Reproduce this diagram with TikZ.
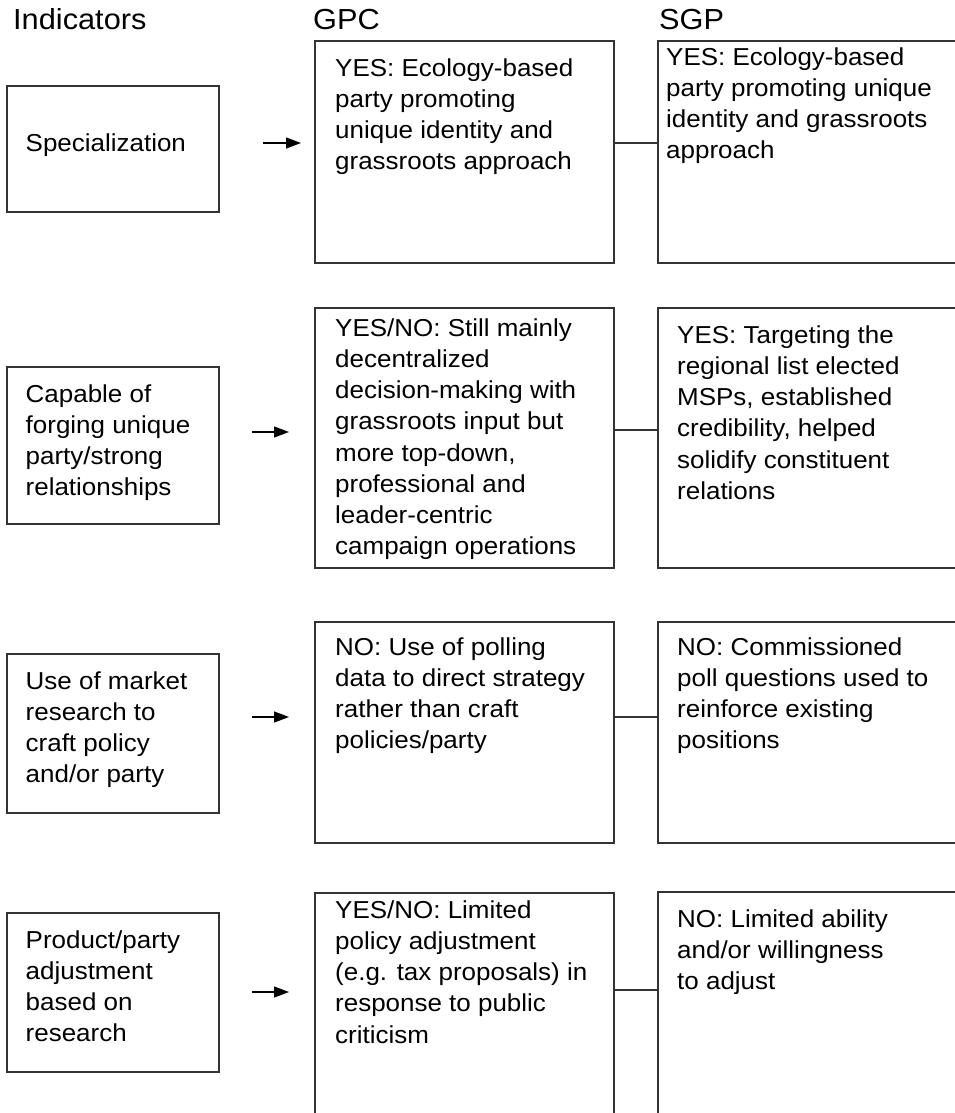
\documentclass[tikz,border=0pt]{standalone}
\usepackage{fontspec}
\setmainfont{Liberation Sans}[FakeStretch=1.06]
\usetikzlibrary{arrows.meta}
\tikzset{
  boxframe/.style={draw=black!80, line width=1.1pt, inner sep=0pt, fill=none},
  bodytext/.style={anchor=north west, inner sep=0pt, align=left, text=black,
    font=\fontsize{24.5}{31.2}\selectfont},
  headtext/.style={anchor=base west, inner sep=0pt, text=black,
    font=\fontsize{29}{34}\selectfont},
  linkline/.style={draw=black!80, line width=1.1pt},
  arrowline/.style={draw=black, line width=1.3pt, -{Triangle[length=15pt,width=11pt]}}
}
\newcommand{\Sx}{\rule{0pt}{20pt}}
\begin{document}
\begin{tikzpicture}[x=1pt, y=-1pt]
\clip (0,0) rectangle (955,1113);
\fill[white] (0,0) rectangle (955,1113);

% headers
\node[headtext] (hind) at (13,30) {Indicators};
\node[headtext] (hgpc) at (313,30) {GPC};
\node[headtext] (hsgp) at (659,30) {SGP};

% indicator boxes
\node[boxframe, minimum width=212pt, minimum height=126pt] (ind1) at (113,149) {};
\node[boxframe, minimum width=212pt, minimum height=157pt] (ind2) at (113,445.5) {};
\node[boxframe, minimum width=212pt, minimum height=159pt] (ind3) at (113,733.5) {};
\node[boxframe, minimum width=212pt, minimum height=159pt] (ind4) at (113,992.5) {};

\node[bodytext] (ind1t) at (25.5,131) {\Sx Specialization};
\node[bodytext] (ind2t) at (25.5,382) {\Sx Capable of\\forging unique\\party/strong\\relationships};
\node[bodytext] (ind3t) at (25.5,669) {\Sx Use of market\\research to\\craft policy\\and/or party};
\node[bodytext] (ind4t) at (25.5,928) {\Sx Product/party\\adjustment\\based on\\research};

% GPC boxes
\node[boxframe, minimum width=299pt, minimum height=222pt] (gpc1) at (464.5,152) {};
\node[boxframe, minimum width=299pt, minimum height=260pt] (gpc2) at (464.5,438) {};
\node[boxframe, minimum width=299pt, minimum height=221pt] (gpc3) at (464.5,732.5) {};
\node[boxframe, minimum width=299pt, minimum height=232pt] (gpc4) at (464.5,1009) {};

\node[bodytext] (gpc1t) at (335,56) {\Sx YES: Ecology-based\\party promoting\\unique identity and\\grassroots approach};
\node[bodytext] (gpc2t) at (335,316) {\Sx YES/NO: Still mainly\\decentralized\\decision-making with\\grassroots input but\\more top-down,\\professional and\\leader-centric\\campaign operations};
\node[bodytext] (gpc3t) at (335,635) {\Sx NO: Use of polling\\data to direct strategy\\rather than craft\\policies/party};
\node[bodytext] (gpc4t) at (335,898) {\Sx YES/NO: Limited\\policy adjustment\\(e.g. tax proposals) in\\response to public\\criticism};

% SGP boxes
\node[boxframe, minimum width=307pt, minimum height=222pt] (sgp1) at (811.5,152) {};
\node[boxframe, minimum width=307pt, minimum height=260pt] (sgp2) at (811.5,438) {};
\node[boxframe, minimum width=307pt, minimum height=221pt] (sgp3) at (811.5,732.5) {};
\node[boxframe, minimum width=307pt, minimum height=233pt] (sgp4) at (811.5,1008.5) {};

\node[bodytext] (sgp1t) at (666,45) {\Sx YES: Ecology-based\\party promoting unique\\identity and grassroots\\approach};
\node[bodytext] (sgp2t) at (677,323) {\Sx YES: Targeting the\\regional list elected\\MSPs, established\\credibility, helped\\solidify constituent\\relations};
\node[bodytext] (sgp3t) at (677,635) {\Sx NO: Commissioned\\poll questions used to\\reinforce existing\\positions};
\node[bodytext] (sgp4t) at (677,907) {\Sx NO: Limited ability\\and/or willingness\\to adjust};

% arrow coordinates
\coordinate (a1s) at (263,143); \coordinate (a1e) at (301,143);
\coordinate (a2s) at (252,432); \coordinate (a2e) at (289,432);
\coordinate (a3s) at (252,717); \coordinate (a3e) at (289,717);
\coordinate (a4s) at (252,992); \coordinate (a4e) at (289,992);
\draw[arrowline] (a1s) -- (a1e);
\draw[arrowline] (a2s) -- (a2e);
\draw[arrowline] (a3s) -- (a3e);
\draw[arrowline] (a4s) -- (a4e);

% links GPC -- SGP
\coordinate (l1) at (636,143);
\coordinate (l2) at (636,430);
\coordinate (l3) at (636,717);
\coordinate (l4) at (636,990);
\draw[linkline] (gpc1.east |- l1) -- (sgp1.west |- l1);
\draw[linkline] (gpc2.east |- l2) -- (sgp2.west |- l2);
\draw[linkline] (gpc3.east |- l3) -- (sgp3.west |- l3);
\draw[linkline] (gpc4.east |- l4) -- (sgp4.west |- l4);
\end{tikzpicture}
\end{document}
